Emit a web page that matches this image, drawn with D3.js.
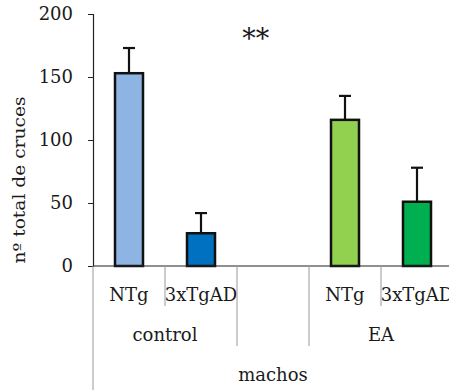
<!DOCTYPE html>
<html><head><meta charset="utf-8">
<script src="https://cdn.jsdelivr.net/npm/d3@7"></script>
<style>body{margin:0;background:#fff;overflow:hidden}svg{display:block}text{font-family:"DejaVu Serif",serif;fill:#1a1a1a}</style>
</head><body><svg id="c" width="449" height="390"></svg>
<script>
const categories = ["NTg","3xTgAD","","NTg","3xTgAD"];
const keys = ["c1","c2","gap","e1","e2"];
const values = [153, 26, null, 116, 51];
const errors = [20, 16, null, 19, 27];
const colors = ["#8EB4E3","#0070C0",null,"#92D050","#00B050"];
const groups = [{label:"control",from:0,to:2},{label:"",from:2,to:3},{label:"EA",from:3,to:5}];
const topGroup = "machos";
const yTicks = [0,50,100,150,200];
const yTitle = "nº total de cruces";
const signif = "**";

const svg = d3.select("#c");
const x0 = 93, x1 = 453, yBase = 266, yTop = 14;
const x = d3.scaleBand().domain(keys).range([x0,x1]).padding(0);
const y = d3.scaleLinear().domain([0,200]).range([yBase,yTop]);
const bw = 28;

// y axis
const ya = svg.append("g").attr("transform",`translate(${x0},0)`)
  .call(d3.axisLeft(y).tickValues(yTicks).tickSize(5).tickPadding(15));
ya.select(".domain").attr("stroke","#222").attr("stroke-width",1.2);
ya.selectAll(".tick line").attr("stroke","#222");
ya.selectAll(".tick text").style("font-size","18px").attr("fill","#1a1a1a").attr("font-family","DejaVu Serif");

svg.append("text").attr("transform",`translate(25,180) rotate(-90)`)
  .attr("text-anchor","middle").style("font-size","16.5px")
  .attr("textLength",167).attr("lengthAdjust","spacingAndGlyphs").text(yTitle);

// bars
const idx = d3.range(keys.length).filter(i=>values[i]!=null);
svg.selectAll("rect.bar").data(idx).join("rect")
  .attr("x",i=>x(keys[i])+x.bandwidth()/2-bw/2).attr("width",bw)
  .attr("y",i=>y(values[i])).attr("height",i=>y(0)-y(values[i]))
  .attr("fill",i=>colors[i]).attr("stroke","#111").attr("stroke-width",2.5);

// error bars
const eb = svg.selectAll("g.err").data(idx).join("g");
eb.append("line").attr("x1",i=>x(keys[i])+x.bandwidth()/2).attr("x2",i=>x(keys[i])+x.bandwidth()/2)
  .attr("y1",i=>y(values[i])).attr("y2",i=>y(values[i]+errors[i])).attr("stroke","#111").attr("stroke-width",2.2);
eb.append("line").attr("x1",i=>x(keys[i])+x.bandwidth()/2-6).attr("x2",i=>x(keys[i])+x.bandwidth()/2+6)
  .attr("y1",i=>y(values[i]+errors[i])).attr("y2",i=>y(values[i]+errors[i])).attr("stroke","#111").attr("stroke-width",2.2);

// x axis baseline
svg.append("line").attr("x1",x0).attr("x2",x1).attr("y1",yBase).attr("y2",yBase).attr("stroke","#222").attr("stroke-width",1.2);

// category labels
svg.selectAll("text.cat").data(categories).join("text")
  .attr("x",(d,i)=>x(keys[i])+x.bandwidth()/2).attr("y",301)
  .attr("text-anchor","middle").style("font-size","18px").text(d=>d);

// level-1 dividers (within groups)
groups.forEach(g=>{
  for(let i=g.from+1;i<g.to;i++){
    svg.append("line").attr("x1",x(keys[i])).attr("x2",x(keys[i])).attr("y1",yBase).attr("y2",306).attr("stroke","#999").attr("stroke-width",1);
  }
});
// group dividers
groups.forEach((g,gi)=>{
  if(gi>0){ const xx=x(keys[g.from]); svg.append("line").attr("x1",xx).attr("x2",xx).attr("y1",yBase).attr("y2",346).attr("stroke","#999").attr("stroke-width",1); }
  const cx=(x(keys[g.from])+ (g.to<keys.length? x(keys[g.to]) : x1))/2;
  svg.append("text").attr("x",cx).attr("y",341).attr("text-anchor","middle").style("font-size","18px").text(g.label);
});
// left outer line
svg.append("line").attr("x1",x0).attr("x2",x0).attr("y1",yBase).attr("y2",390).attr("stroke","#999").attr("stroke-width",1);
svg.append("text").attr("x",(x0+x1)/2).attr("y",381).attr("text-anchor","middle").style("font-size","18px").text(topGroup);

// significance
svg.append("text").attr("x",x(keys[2])+x.bandwidth()*0.26).attr("y",48).attr("text-anchor","middle").style("font-size","27px").text(signif);
</script></body></html>
